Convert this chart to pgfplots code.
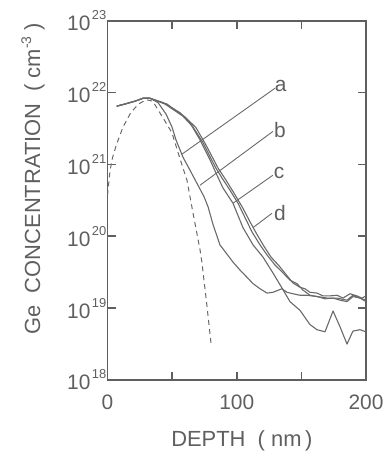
\documentclass[border=0pt]{standalone}
\usepackage{fontspec}
\setmainfont{Liberation Sans}
\usepackage{pgfplots}
\pgfplotsset{compat=1.18}
\definecolor{ink}{RGB}{95,95,95}
\definecolor{crv}{RGB}{105,105,105}
\newcommand{\ex}[1]{10\hspace{1.5bp}\raisebox{11bp}{\fontsize{13}{13}\selectfont #1}}
\tikzset{sol/.style={draw=crv, no markers, line width=1.1bp, line join=round},
 lead/.style={draw=crv, no markers, line width=0.9bp}}
\begin{document}
\begin{tikzpicture}
\begin{axis}[
 scale only axis, width=258.5bp, height=359.3bp,
 ymode=log, xmin=0, xmax=200, ymin=1e18, ymax=1e23,
 xtick={0,50,100,150,200}, xticklabels={0,,100,,200},
 ytick={1e18,1e19,1e20,1e21,1e22,1e23},
 yticklabels={\ex{18},\ex{19},\ex{20},\ex{21},\ex{22},\ex{23}},
 yminorticks=false, xminorticks=false,
 tick align=inside, tick pos=both, major tick length=8bp,
 axis line style={line width=1.8bp, draw=ink},
 major tick style={line width=1.6bp, draw=ink},
 ticklabel style={font=\fontsize{21}{23}\selectfont, text=ink},
 /pgf/number format/assume math mode=true,
 yticklabel style={inner sep=1bp},
 xticklabel style={yshift=-11bp},
 clip mode=individual,
]
\coordinate (O) at (rel axis cs:0,0);
% curve a (leftmost, early plateau)
\addplot[sol] coordinates {(7.1,6.46e21)(13.5,6.92e21)(21.3,7.59e21)(27.5,8.32e21)(32.9,8.32e21)
(39.1,7.24e21)(45.3,5.01e21)(49.9,3.31e21)(53.0,2.19e21)(58.4,1.26e21)(63.8,8.32e20)
(70.0,5.13e20)(74.7,3.55e20)(77.8,2.57e20)(81.7,1.45e20)(87.0,7.59e19)(92.5,5.62e19)
(97.1,4.37e19)(102.5,3.39e19)(107.9,2.69e19)(112.6,2.19e19)(118.0,1.86e19)(123.4,1.62e19)
(128.0,1.66e19)(135.0,1.86e19)(138.9,1.66e19)(143.5,1.585e19)(148.9,1.51e19)(154.4,1.51e19)
(162.1,1.45e19)(169.8,1.38e19)(177.6,1.38e19)(185.3,1.29e19)(189.9,1.51e19)(195.4,1.38e19)(200,1.29e19)};
% curve going lowest
\addplot[sol] coordinates {(7.1,6.46e21)(13.5,6.92e21)(21.3,7.59e21)(27.5,8.32e21)(32.9,8.32e21)
(42.9,7.24e21)(56.1,5.25e21)(63.8,3.80e21)(71.6,2.19e21)(79.4,1.15e21)(84.7,7.08e20)
(89.4,4.68e20)(97.1,2.88e20)(104.8,1.32e20)(112.6,7.59e19)(120.3,5.13e19)(128.0,3.09e19)
(135.0,1.905e19)(141.2,1.23e19)(148.9,9.33e18)(156.7,5.89e18)(162.1,5.01e18)(168.3,4.68e18)
(174.5,9.12e18)(179.9,5.50e18)(185.3,3.16e18)(189.9,4.79e18)(195.4,5.01e18)(200,4.68e18)};
% right pair
\addplot[sol] coordinates {(7.1,6.46e21)(13.5,6.92e21)(21.3,7.59e21)(27.5,8.32e21)(32.9,8.32e21)
(44.5,6.92e21)(58.4,4.68e21)(66.2,3.31e21)(73.9,2.00e21)(83.5,9.12e20)(88.6,6.46e20)
(94.8,4.37e20)(101.0,2.88e20)(107.2,1.70e20)(111.8,1.15e20)(118.0,7.59e19)(123.4,5.50e19)
(129.6,3.98e19)(135.8,3.09e19)(141.2,2.45e19)(146.6,2.19e19)(151.3,1.78e19)(156.7,1.51e19)
(162.1,1.45e19)(168.3,1.35e19)(174.5,1.38e19)(179.9,1.29e19)(185.3,1.23e19)(189.9,1.45e19)
(195.4,1.38e19)(200,1.23e19)};
\addplot[sol] coordinates {(7.1,6.46e21)(13.5,6.92e21)(21.3,7.59e21)(27.5,8.32e21)(32.9,8.32e21)
(46.0,6.92e21)(60.0,4.57e21)(68.5,3.24e21)(76.2,1.86e21)(85.5,8.91e20)(91.7,6.03e20)
(97.9,3.98e20)(104.8,2.45e20)(110.3,1.585e20)(114.9,1.12e20)(121.1,7.24e19)(126.5,5.13e19)
(132.7,3.89e19)(138.9,2.82e19)(143.5,2.24e19)(148.9,1.95e19)(152.8,1.86e19)(156.7,1.66e19)
(162.1,1.62e19)(166.7,1.48e19)(172.1,1.48e19)(177.6,1.51e19)(182.2,1.38e19)(187.6,1.585e19)
(193.0,1.48e19)(196.9,1.38e19)(200,1.48e19)};
% dashed calculated profile
\addplot[sol, line width=1.0bp, dash pattern=on 5bp off 4bp] coordinates {(0,3.72e20)(2,8.32e20)(4,1.26e21)(7,1.905e21)
(12,3.31e21)(18,5.25e21)(24,6.92e21)(30,7.94e21)(35,7.59e21)(39.1,5.75e21)(44.9,3.89e21)
(49.9,2.75e21)(54.5,1.48e21)(58.4,8.91e20)(61.5,6.03e20)(66.2,2.09e20)(71.6,6.46e19)
(73.1,4.27e19)(76.7,1.175e19)(80.1,3.24e18)};
% leader lines
\addplot[lead] coordinates {(129.6,1.148e22)(57.4,1.38e21)};
\addplot[lead] coordinates {(128.0,2.88e21)(71.6,5.13e20)};
\addplot[lead] coordinates {(128.0,7.08e20)(97.1,2.88e20)};
\addplot[lead] coordinates {(127.3,2.09e20)(112.6,1.32e20)};
\node[text=ink, font=\fontsize{21}{23}\selectfont, inner sep=0pt] at (axis cs:134.0,1.23e22) {a};
\node[text=ink, font=\fontsize{21}{23}\selectfont, inner sep=0pt] at (axis cs:133.5,3.01e21) {b};
\node[text=ink, font=\fontsize{21}{23}\selectfont, inner sep=0pt] at (axis cs:132.7,7.59e20) {c};
\node[text=ink, font=\fontsize{21}{23}\selectfont, inner sep=0pt] at (axis cs:133.5,2.11e20) {d};
% axis titles
\node[text=ink, font=\fontsize{22}{24}\selectfont, rotate=90, inner sep=0pt] at (axis description cs:-0.288,0.56)
 {Ge\ \ CONCENTRATION\ \ (\ cm\raisebox{9bp}{\fontsize{14}{14}\selectfont -3}\ )};
\node[text=ink, font=\fontsize{22}{24}\selectfont, inner sep=0pt] at (axis description cs:0.52,-0.168)
 {DEPTH\ \ (\ nm\,)};
\end{axis}
\pgfresetboundingbox
\path[use as bounding box] ([shift={(-107.5bp,-82bp)}]O) rectangle ++(387bp,462bp);
\end{tikzpicture}
\end{document}
